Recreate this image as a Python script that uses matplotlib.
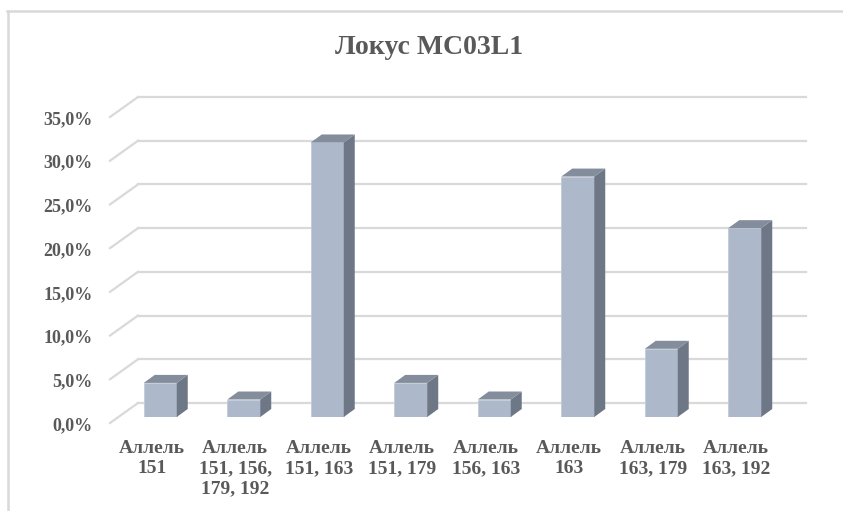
import matplotlib.pyplot as plt
from matplotlib.patches import Polygon
from matplotlib.lines import Line2D
import numpy as np

# Allele frequencies for locus MC03L1, percent
categories = ['Аллель\n151', 'Аллель\n151, 156,\n179, 192', 'Аллель\n151, 163',
              'Аллель\n151, 179', 'Аллель\n156, 163', 'Аллель\n163',
              'Аллель\n163, 179', 'Аллель\n163, 192']
shares = [3.9, 2.0, 31.4, 3.9, 2.0, 27.5, 7.8, 21.6]
y_ticks = [0, 5, 10, 15, 20, 25, 30, 35]
y_tick_labels = ['0,0%', '5,0%', '10,0%', '15,0%', '20,0%', '25,0%', '30,0%', '35,0%']

W, H = 843, 511
FONT = 'Liberation Serif'
TXT = '#595959'
GRID = '#d9d9d9'
FRONT = '#adb9ca'
SIDE = '#6e7786'
TOP = '#838d9c'

fig = plt.figure(figsize=(W / 100, H / 100), dpi=100)
fig.patch.set_facecolor('white')

# axes = plane of the bar front faces
ax_left, ax_right, ax_base, ax_top = 118.5, 786.5, 417, 111
ax = fig.add_axes([ax_left / W, (H - ax_base) / H,
                   (ax_right - ax_left) / W, (ax_base - ax_top) / H])
ax.set_xlim(-0.5, 7.5)
ax.set_ylim(0, 35)
ax.axis('off')

# pixel -> data conversion for the pseudo-3D offsets
xpp = 8 / (ax_right - ax_left)
ypp = 35 / (ax_base - ax_top)
wall_dx, wall_dy = 19.5 * xpp, 14 * ypp      # back wall relative to bar plane
front_dx, front_dy = -8.5 * xpp, -6 * ypp    # floor front edge relative to bar plane
bar_dx, bar_dy = 11 * xpp, 8 * ypp           # bar depth

# back wall gridlines and slanted side-wall lines
for v in y_ticks:
    ax.plot([-0.5 + wall_dx, 7.5 + wall_dx], [v + wall_dy, v + wall_dy],
            color=GRID, lw=1.6, clip_on=False, zorder=1)
    ax.plot([-0.5 + front_dx, -0.5 + wall_dx], [v + front_dy, v + wall_dy],
            color=GRID, lw=1.6, clip_on=False, zorder=1)

for v, lab in zip(y_ticks, y_tick_labels):
    ax.text(-0.5 - 25.5 * xpp, v - 8.5 * ypp, lab, ha='right', va='center',
            fontsize=13, fontweight='bold', family=FONT, color=TXT, clip_on=False)

# bars: front faces from ax.bar, side and top faces as polygons
x = np.arange(len(categories))
bw = 0.395
ax.bar(x, shares, width=bw, color=FRONT, edgecolor='#c3cbd8', linewidth=0.6, zorder=3)
for xi, h in zip(x, shares):
    r, l = xi + bw / 2, xi - bw / 2
    side = Polygon([(r, 0), (r + bar_dx, bar_dy), (r + bar_dx, h + bar_dy), (r, h)],
                   closed=True, facecolor=SIDE, edgecolor='none', zorder=3, clip_on=False)
    top = Polygon([(l, h), (r, h), (r + bar_dx, h + bar_dy), (l + bar_dx, h + bar_dy)],
                  closed=True, facecolor=TOP, edgecolor='none', zorder=3, clip_on=False)
    ax.add_patch(side)
    ax.add_patch(top)

for xi, lab in zip(x, categories):
    ax.text(xi + front_dx, -23 * ypp, lab, ha='center', va='top', multialignment='center',
            fontsize=14, fontweight='bold', family=FONT, color=TXT,
            linespacing=1.25, clip_on=False)

fig.text(429 / W, 1 - 47 / H, 'Локус MC03L1', ha='center', va='center',
         fontsize=20, fontweight='bold', family=FONT, color=TXT)

# chart frame (cut off at the right and bottom)
fig.add_artist(Line2D([7 / W, 1], [1 - 11 / H, 1 - 11 / H], transform=fig.transFigure,
                      color=GRID, lw=1.8))
fig.add_artist(Line2D([8 / W, 8 / W], [1 - 11 / H, 0], transform=fig.transFigure,
                      color=GRID, lw=1.8))

fig.savefig('out.png', dpi=100)
